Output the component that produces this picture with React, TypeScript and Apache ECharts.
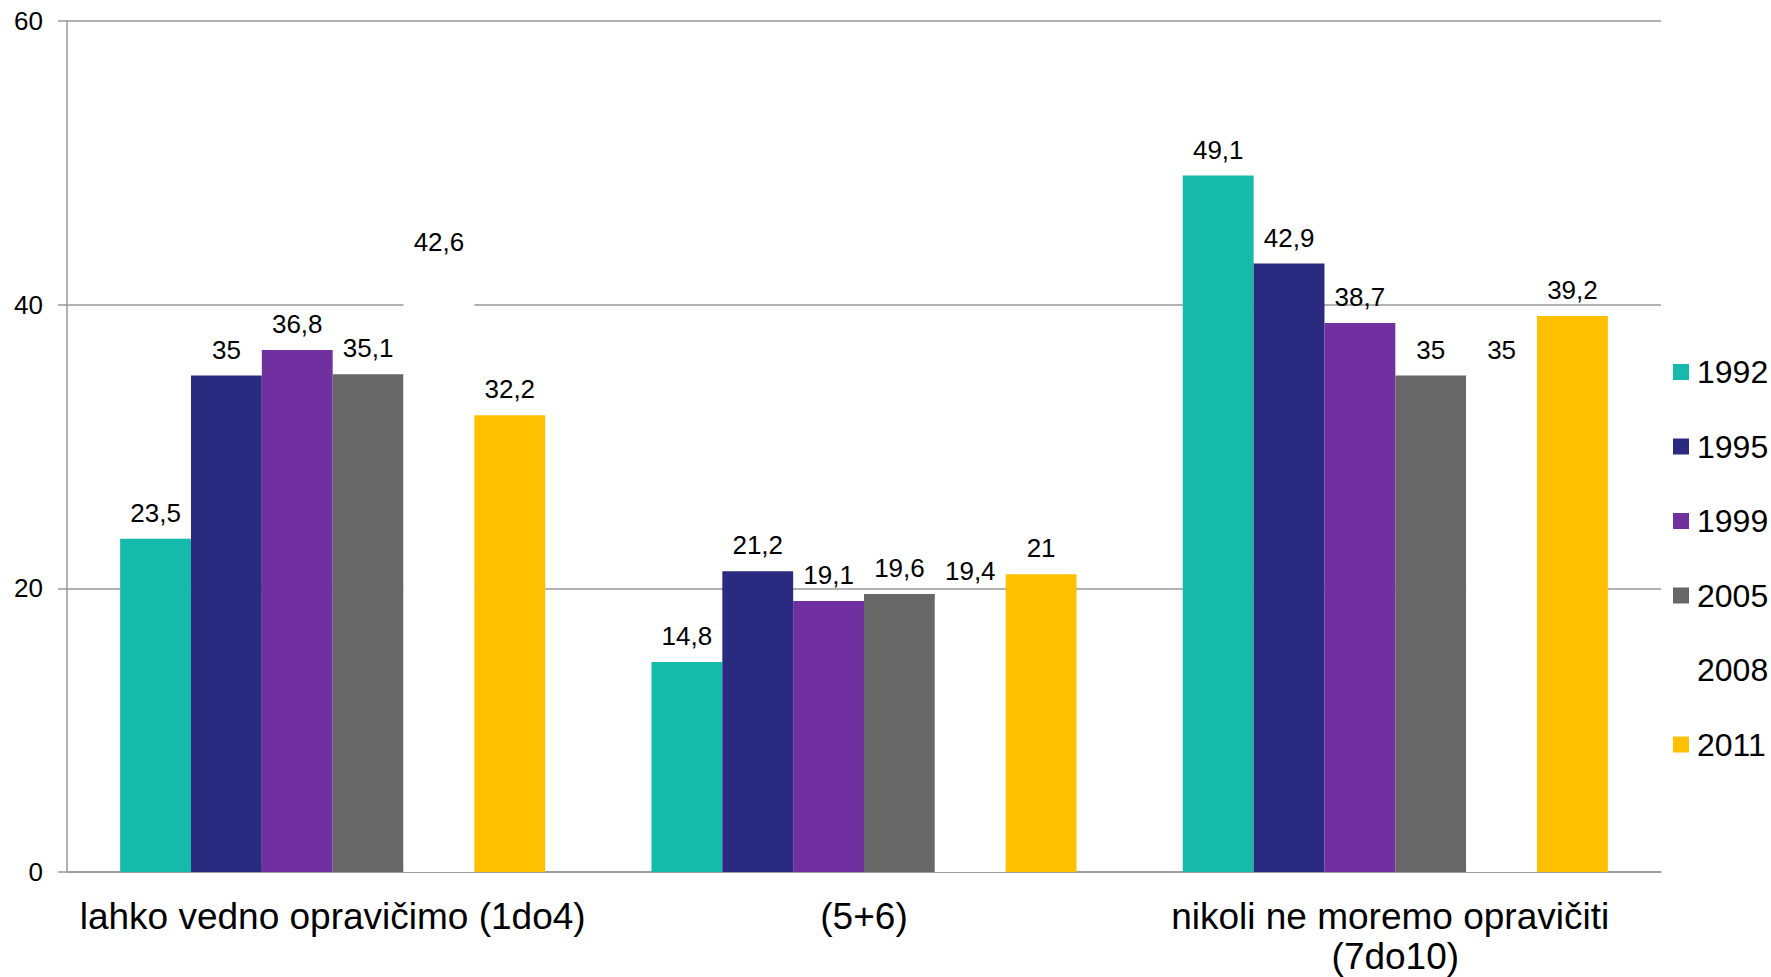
import React, { useEffect, useRef } from "react";
import * as echarts from "echarts";

const categories = [
  "lahko vedno opravičimo (1do4)",
  "(5+6)",
  "nikoli ne moremo opravičiti (7do10)",
];
const seriesNames = ["1992", "1995", "1999", "2005", "2008", "2011"];
const values1992 = [23.5, 14.8, 49.1];
const values1995 = [35, 21.2, 42.9];
const values1999 = [36.8, 19.1, 38.7];
const values2005 = [35.1, 19.6, 35];
const values2008 = [42.6, 19.4, 35];
const values2011 = [32.2, 21, 39.2];
const seriesValues = [values1992, values1995, values1999, values2005, values2008, values2011];
const seriesColors = ["#16BAAA", "#2A2A80", "#7030A0", "#676767", "#FFFFFF", "#FFC000"];
const yTicks = { min: 0, max: 60, interval: 20 };

const FONT = "'Liberation Sans', Arial, sans-serif";

export default function App() {
  const ref = useRef<HTMLDivElement>(null);
  useEffect(() => {
    if (!ref.current) return;
    const chart = echarts.init(ref.current, undefined, { renderer: "svg" });
    chart.setOption({
      animation: false,
      backgroundColor: "#ffffff",
      grid: { left: 67, right: 110, top: 21, bottom: 105, containLabel: false },
      legend: {
        orient: "vertical",
        left: 1668,
        top: 351,
        itemWidth: 16,
        itemHeight: 16,
        itemGap: 42.5,
        icon: "rect",
        data: seriesNames,
        textStyle: { fontFamily: FONT, fontSize: 32, color: "#000", lineHeight: 31, padding: [0, 0, 0, 3] },
      },
      xAxis: {
        type: "category",
        data: categories,
        axisLine: { show: true, lineStyle: { color: "#999", width: 1.5 } },
        axisTick: { show: false },
        axisLabel: {
          interval: 0,
          margin: 24,
          color: "#000",
          fontFamily: FONT,
          fontSize: 37,
          lineHeight: 40,
          width: 528,
          overflow: "break",
        },
      },
      yAxis: {
        type: "value",
        min: yTicks.min,
        max: yTicks.max,
        interval: yTicks.interval,
        axisLine: { show: true, lineStyle: { color: "#999", width: 1.5 } },
        axisTick: { show: true, length: 9, lineStyle: { color: "#999", width: 1.5 } },
        splitLine: { show: true, lineStyle: { color: "#999", width: 1.5 } },
        axisLabel: { margin: 24, color: "#000", fontFamily: FONT, fontSize: 26 },
      },
      series: seriesNames.map((name, i) => ({
        name,
        type: "bar",
        data: seriesValues[i],
        barGap: "0%",
        barCategoryGap: "20%",
        itemStyle: { color: seriesColors[i] },
        label: {
          show: true,
          position: "top",
          distance: 13,
          color: "#000",
          fontFamily: FONT,
          fontSize: 26,
          lineHeight: 26,
          formatter: (p: any) => String(p.value).replace(".", ","),
        },
      })),
    });
    return () => chart.dispose();
  }, []);
  return (
    <div
      ref={ref}
      style={{ position: "fixed", left: 0, top: 0, width: 1771, height: 977, overflow: "hidden" }}
    />
  );
}
